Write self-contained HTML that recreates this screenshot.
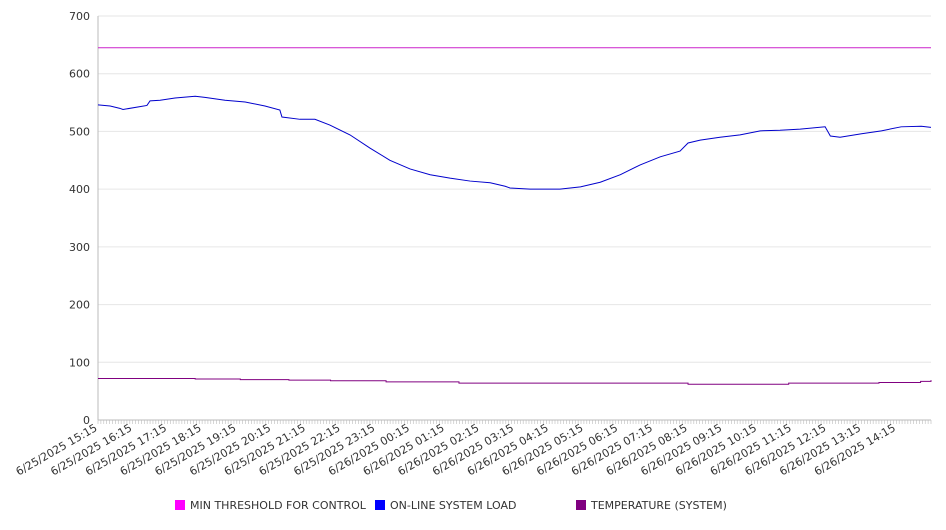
<!DOCTYPE html>
<html><head><meta charset="utf-8"><style>
body{margin:0;background:#fff;width:946px;height:526px;overflow:hidden;font-family:"DejaVu Sans","Liberation Sans",sans-serif}
svg text{font-family:"DejaVu Sans","Liberation Sans",sans-serif;fill:#333}
</style></head><body>
<svg id="chart" width="946" height="526" xmlns="http://www.w3.org/2000/svg"></svg>
<script>
const yTicks=[0,100,200,300,400,500,600,700];
const xLabels=["6/25/2025 15:15","6/25/2025 16:15","6/25/2025 17:15","6/25/2025 18:15","6/25/2025 19:15","6/25/2025 20:15","6/25/2025 21:15","6/25/2025 22:15","6/25/2025 23:15","6/26/2025 00:15","6/26/2025 01:15","6/26/2025 02:15","6/26/2025 03:15","6/26/2025 04:15","6/26/2025 05:15","6/26/2025 06:15","6/26/2025 07:15","6/26/2025 08:15","6/26/2025 09:15","6/26/2025 10:15","6/26/2025 11:15","6/26/2025 12:15","6/26/2025 13:15","6/26/2025 14:15"];
const loadHours=[0,0.35,0.63,0.72,1.21,1.41,1.5,1.79,2.22,2.8,3.08,3.66,4.24,4.81,5.24,5.3,5.82,6.25,6.68,7.26,7.84,8.41,8.99,9.57,10.14,10.72,11.3,11.73,11.87,12.45,13.31,13.9,14.47,15.05,15.62,16.2,16.77,17.0,17.35,17.92,18.5,19.08,19.65,20.23,20.95,21.1,21.38,22.0,22.57,23.14,23.72,24.0];
const loadValues=[546,544,540,538,543,545,553,554,558,561,559,554,551,544,537,525,521,521,511,494,471,450,435,425,419,414,411,405,402,400,400,404,412,425,442,456,466,480,485,490,494,501,502,504,508,492,490,496,501,508,509,507];
const tempHours=[0,2.8,4.1,5.5,6.7,8.3,10.4,17.0,19.9,22.5,23.7,24.0];
const tempValues=[72,71,70,69,68,66,64,62,64,65,67,69];
const thresholdValue=645;
const X0=98,X1=931,Y0=420,Y1=16,HMAX=24.0,VMAX=700;
const xs=h=>X0+(h/HMAX)*(X1-X0);
const ys=v=>Y0-(v/VMAX)*(Y0-Y1);
const svg=document.getElementById('chart');
const NS="http://www.w3.org/2000/svg";
function mk(t,a){const e=document.createElementNS(NS,t);for(const k in a)e.setAttribute(k,a[k]);svg.appendChild(e);return e;}
yTicks.forEach(v=>{
  const g=mk('line',{x1:X0,x2:X1,y1:ys(v),y2:ys(v),stroke:v===0?'#bbb':'#e6e6e6','stroke-width':1});
  
  
  const t=mk('text',{x:90,y:ys(v)+4,'text-anchor':'end','font-size':11});
  t.textContent=v;
  
  
});
const ax=mk('line',{x1:X0,x2:X0,y1:Y1,y2:Y0,stroke:'#bbb'});


for(let i=0;i<=HMAX*12;i++){
  const x=X0+i*(X1-X0)/(HMAX*12);
  const m=mk('line',{x1:x,x2:x,y1:Y0,y2:Y0+4,stroke:'#bbb','stroke-width':0.6});
  
  
}
xLabels.forEach((l,i)=>{
  const x=xs(i),y=Y0+10;
  const t=mk('text',{x:x,y:y,'text-anchor':'end','font-size':11,transform:`rotate(-30 ${x} ${y})`});
  t.textContent=l;
  
  
});
const th=mk('line',{x1:X0,x2:X1,y1:ys(thresholdValue),y2:ys(thresholdValue),stroke:'#cc22cc','stroke-width':1});


const lp=mk('polyline',{points:loadHours.map((h,i)=>xs(h)+','+ys(loadValues[i])).join(' '),fill:'none',stroke:'#0000cc','stroke-width':1});


let tp=[];tempHours.forEach((h,i)=>{if(i>0)tp.push(xs(h)+','+ys(tempValues[i-1]));tp.push(xs(h)+','+ys(tempValues[i]));});
const tl=mk('polyline',{points:tp.join(' '),fill:'none',stroke:'#800080','stroke-width':1});


const legend=[["MIN THRESHOLD FOR CONTROL","#ff00ff",175],["ON-LINE SYSTEM LOAD","#0000ff",375],["TEMPERATURE (SYSTEM)","#800080",576]];
legend.forEach(([n,c,x])=>{
  const r=mk('rect',{x:x,y:500,width:10,height:10,fill:c});
  
  
  const t=mk('text',{x:x+15,y:509,'font-size':11});
  t.textContent=n;
  
  
});
</script>
</body></html>
